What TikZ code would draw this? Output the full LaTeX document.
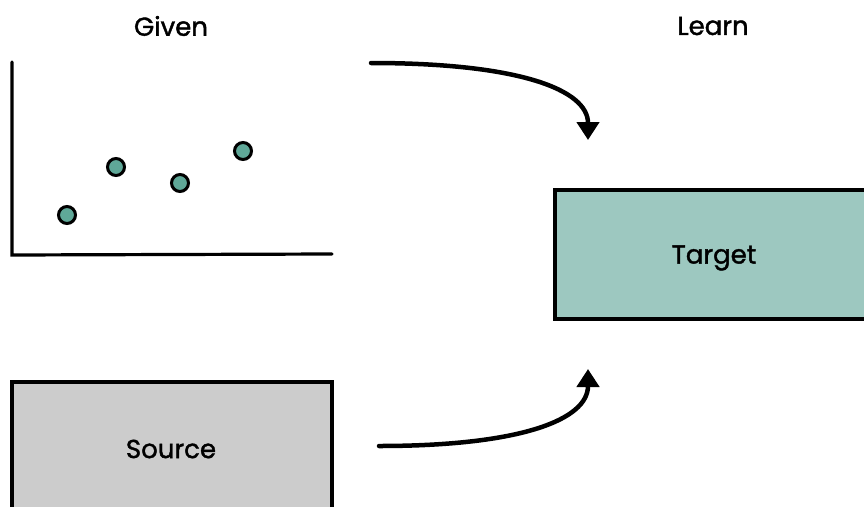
\documentclass[tikz,border=0pt]{standalone}
\usepackage{fontspec}
\setmainfont{Poppins}
\newfontfamily\lblfont[FakeBold=1.5]{Poppins}
\usetikzlibrary{arrows.meta}
\definecolor{dotteal}{HTML}{5FA898}
\definecolor{boxteal}{HTML}{9DC8C0}
\definecolor{boxgray}{HTML}{CCCCCC}
\tikzset{
  lbl/.style={font=\lblfont\fontsize{26}{29}\selectfont, text=black},
  dot/.style={circle, draw=black, line width=3pt, fill=dotteal, minimum size=17pt, inner sep=0pt},
  box/.style={draw=black, line width=3.2pt},
  axis/.style={line width=3.2pt, line cap=round},
  curvarrow/.style={line width=4.5pt, line cap=round, -{Triangle[length=18pt,width=22pt]}}
}
\begin{document}
\begin{tikzpicture}[x=1pt,y=-1pt]
\useasboundingbox (0,0) rectangle (864,506);
\clip (0,0) rectangle (864,506);
\node[lbl] (given) at (171,26) {Given};
\node[lbl] (learn) at (713,26) {Learn};
% axes
\coordinate (ytop) at (12,62);
\coordinate (orig) at (12,255);
\coordinate (xend) at (332,254);
\draw[axis] (ytop) -- (orig) -- (xend);
% dots
\node[dot] (d1) at (67,215) {};
\node[dot] (d2) at (116,167) {};
\node[dot] (d3) at (180,183) {};
\node[dot] (d4) at (243,151) {};
% boxes
\draw[box, fill=boxteal] (555,190) rectangle (875,319);
\node[lbl] (target) at (714,258) {Target};
\draw[box, fill=boxgray] (12,382) rectangle (332,520);
\node[lbl] (source) at (171,449) {Source};
% arrows
\coordinate (a1s) at (371,63);
\coordinate (a1e) at (588,140);
\draw[curvarrow] (a1s) .. controls (520,63) and (588,90) .. (a1e);
\coordinate (a2s) at (379,446);
\coordinate (a2e) at (588,369);
\draw[curvarrow] (a2s) .. controls (520,446) and (588,420) .. (a2e);
\end{tikzpicture}
\end{document}
